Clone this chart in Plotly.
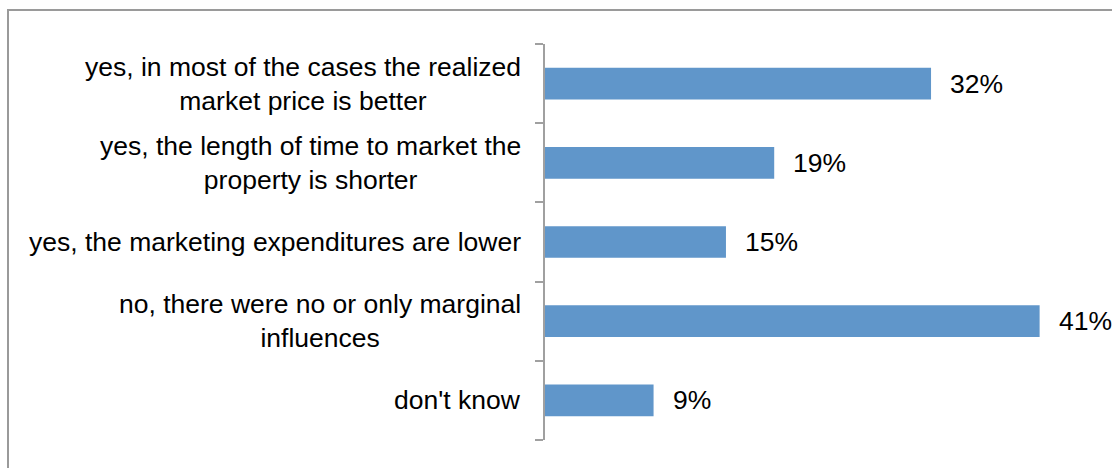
import plotly.graph_objects as go

# Survey answers (top to bottom) and share of respondents in percent
categories = [
    "yes, in most of the cases the realized<br>market price is better",
    "yes, the length of time to market the<br>property is shorter",
    "yes, the marketing expenditures are lower",
    "no, there were no or only marginal<br>influences",
    "don't know",
]
shares = [32, 19, 15, 41, 9]
value_labels = [f"{v}%" for v in shares]

BAR_COLOR = "#6096CA"
AXIS_COLOR = "#A0A0A0"
FONT = dict(family="Liberation Sans, Arial, sans-serif", size=26.5, color="#000000")

W, H = 1112, 468
ML, MR, MT, MB = 545, 0, 44, 28

# one slot per answer on a numeric axis, so ticks can sit on every slot boundary
slots = list(range(len(categories)))
boundaries = [s - 0.5 for s in slots] + [slots[-1] + 0.5]

fig = go.Figure(
    go.Bar(
        x=shares,
        y=slots,
        orientation="h",
        marker=dict(color=BAR_COLOR, line=dict(width=0)),
        width=0.4,
        cliponaxis=False,
        hoverinfo="skip",
    )
)

annotations = []
# category labels, lines centred, right edge left of the axis
for s, cat in zip(slots, categories):
    annotations.append(
        dict(
            x=0, xref="paper", y=s, yref="y",
            text=cat, showarrow=False,
            xanchor="right", yanchor="middle", align="center",
            xshift=-22, font=FONT,
        )
    )
# value labels after each bar
for s, val, lab in zip(slots, shares, value_labels):
    annotations.append(
        dict(
            x=val, xref="x", y=s, yref="y",
            text=lab, showarrow=False,
            xanchor="left", yanchor="middle",
            xshift=17, font=FONT,
        )
    )

plot_w = W - ML - MR
plot_h = H - MT - MB

fig.update_layout(
    width=W,
    height=H,
    margin=dict(l=ML, r=MR, t=MT, b=MB, pad=0),
    paper_bgcolor="white",
    plot_bgcolor="white",
    showlegend=False,
    font=FONT,
    xaxis=dict(
        range=[0, 47],
        visible=False,
        showgrid=False,
        zeroline=False,
    ),
    yaxis=dict(
        range=[boundaries[-1], boundaries[0]],
        tickmode="array",
        tickvals=boundaries,
        showticklabels=False,
        showgrid=False,
        zeroline=False,
        showline=True,
        linecolor=AXIS_COLOR,
        linewidth=2,
        ticks="outside",
        ticklen=8,
        tickwidth=2,
        tickcolor=AXIS_COLOR,
    ),
    annotations=annotations,
    shapes=[
        # outer frame of the chart area, running past the page edges
        dict(
            type="rect", xref="paper", yref="paper",
            x0=(8 - ML) / plot_w, x1=1.2,
            y0=-0.3, y1=(H - MB - 10) / plot_h,
            line=dict(color="#9A9A9A", width=2),
            fillcolor="rgba(0,0,0,0)",
            layer="below",
        )
    ],
)

fig.write_html("out.html")
